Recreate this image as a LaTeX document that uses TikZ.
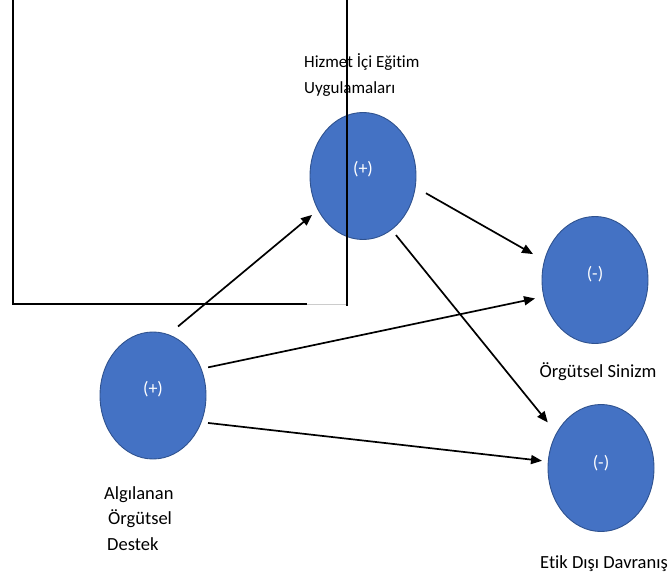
\documentclass[tikz,border=0pt]{standalone}
\usepackage{fontspec}
\setmainfont{Carlito}[Ligatures={NoCommon}]
\usetikzlibrary{arrows.meta,shapes.geometric}
\definecolor{ofblue}{HTML}{4472C4}
\definecolor{ofedge}{HTML}{2F528F}
\begin{document}
\begin{tikzpicture}[x=1pt,y=-1pt,
  var/.style={ellipse, draw=ofedge, line width=0.9pt, fill=ofblue, minimum width=106pt, minimum height=127pt, inner sep=0pt, outer sep=0pt, text=white, font=\fontsize{18}{22}\selectfont},
  lbl/.style={inner sep=0pt, font=\fontsize{18.5}{25.5}\selectfont, align=left},
  arr/.style={-{Triangle[length=11pt,width=9pt]}, line width=1.7pt, black},
  frame/.style={line width=2.6pt, black}]
\useasboundingbox (0,0) rectangle (672,578);
\node[var] (hie) at (363,176) {\raisebox{7pt}[\height][\depth]{(+)}};
\node[var] (aod) at (153,395.5) {\raisebox{6pt}[\height][\depth]{(+)}};
\node[var] (os) at (595,280) {\raisebox{6pt}[\height][\depth]{(-)}};
\node[var] (edd) at (601,468) {\raisebox{5pt}[\height][\depth]{(-)}};
\node[lbl, anchor=base west, font=\fontsize{17}{25.5}\selectfont] (thie) at (304,93) {Hizmet İçi Eğitim\\Uygulamaları};
\node[lbl, anchor=base west] (tos) at (539.5,377) {Örgütsel Sinizm};
\node[lbl, anchor=base west] (tedd) at (540,568) {Etik Dışı Davranış};
\node[lbl, anchor=base west] (taod) at (104,550) {Algılanan\\\hspace{4pt}Örgütsel\\\hspace{3pt}Destek};
\draw[arr, shorten <=12.8pt, shorten >=8pt] (aod.76) -- (hie.217);
\draw[arr, shorten <=7.2pt, shorten >=9pt] (aod.29) -- (os.198);
\draw[arr, shorten <=7pt, shorten >=6.3pt] (aod.331) -- (edd.173);
\draw[arr, shorten <=12.4pt, shorten >=13.2pt] (hie.348) -- (os.159);
\draw[arr, shorten <=7.1pt, shorten >=14pt] (hie.298) -- (edd.142);
\draw[frame] (13,-3) -- (13,304) -- (307,304);
\draw[gray!40, line width=0.8pt] (307,304) -- (346,304);
\draw[frame] (347,-3) -- (347,306);
\end{tikzpicture}
\end{document}
